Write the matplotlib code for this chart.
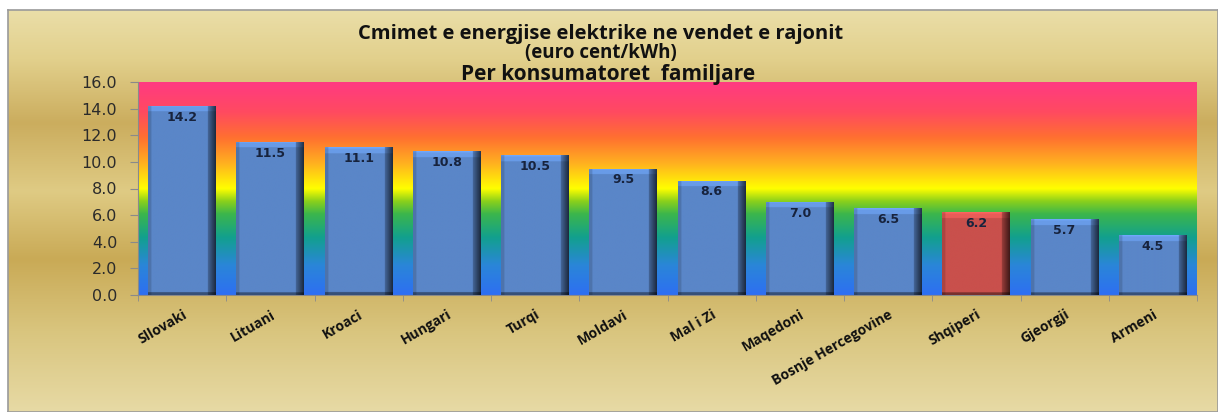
import numpy as np
import matplotlib.pyplot as plt
from matplotlib.colors import LinearSegmentedColormap, to_rgb

vendet = ["Sllovaki", "Lituani", "Kroaci", "Hungari", "Turqi", "Moldavi",
          "Mal i Zi", "Maqedoni", "Bosnje Hercegovine", "Shqiperi", "Gjeorgji", "Armeni"]
cmimet = [14.2, 11.5, 11.1, 10.8, 10.5, 9.5, 8.6, 7.0, 6.5, 6.2, 5.7, 4.5]
theksuar = "Shqiperi"

blu = "#5a86c8"
kuqe = "#c9504c"

W, H = 1218, 412
fig = plt.figure(figsize=(W / 100, H / 100), dpi=100)
fig.patch.set_facecolor("white")

# sfondi i arte
bg = fig.add_axes([8 / W, 0, 1 - 8 / W, 1 - 10 / H])
ari = LinearSegmentedColormap.from_list("ari", [
    (0.0, "#eadea8"), (0.12, "#e2d08c"), (0.28, "#cbad5e"), (0.45, "#dfcb84"),
    (0.62, "#c9aa56"), (0.80, "#d9c57e"), (1.0, "#e7daa5")])
bg.imshow(np.linspace(0, 1, 256)[:, None], aspect="auto", cmap=ari,
          extent=[0, 1, 0, 1], origin="upper")
bg.set_xticks([])
bg.set_yticks([])
for s in bg.spines.values():
    s.set_color("#9a9a9a")
    s.set_linewidth(1.2)
bg.set_zorder(0)

ax = fig.add_axes([138 / W, (H - 295) / H, (1197 - 138) / W, (295 - 82) / H])
ax.set_zorder(1)
n = len(vendet)
x = np.arange(n)
ax.set_xlim(-0.5, n - 0.5)
ax.set_ylim(0, 16)

# ylberi i zones se grafikut
ylber = LinearSegmentedColormap.from_list("ylber", [
    (0.0, "#2e6ff2"), (0.14, "#2a86d8"), (0.27, "#12a08e"), (0.38, "#3bb64c"),
    (0.44, "#8ad01c"), (0.50, "#ffff00"), (0.62, "#ffb020"), (0.74, "#ff7030"),
    (0.86, "#ff4a60"), (1.0, "#ff3a82")])
ax.imshow(np.linspace(0, 1, 256)[:, None], aspect="auto", cmap=ylber,
          extent=[-0.5, n - 0.5, 0, 16], origin="lower", zorder=0)

w = 0.77
bars = ax.bar(x, cmimet, width=w, color=[kuqe if v == theksuar else blu for v in vendet],
              zorder=2, linewidth=0)

# hije per efektin 3D te shtyllave
for b, v, name in zip(bars, cmimet, vendet):
    base = np.array(to_rgb(kuqe if name == theksuar else blu))
    cols = np.linspace(0, 1, 100)
    rows = np.linspace(0, v, 400)
    f = np.ones((rows.size, cols.size))
    f[:, cols < 0.05] = 0.86
    right = cols > 0.88
    f[:, right] = np.linspace(0.75, 0.32, right.sum())[None, :]
    top = rows > v - 0.45
    f[top, :] = f[top, :] * 1.16
    f[rows > v - 0.1, :] *= 1.08
    f[rows < 0.2, :] *= 0.6
    img = np.clip(base[None, None, :] * f[:, :, None], 0, 1)
    x0 = b.get_x()
    im = ax.imshow(img, extent=[x0, x0 + b.get_width(), 0, v], origin="lower",
                   aspect="auto", zorder=3)
    im.set_clip_path(b)
    ax.text(b.get_x() + b.get_width() / 2, v - 0.85, f"{v:.1f}", ha="center", va="center",
            fontsize=9, fontweight="bold", color="#17233d", zorder=4)

ax.set_yticks(np.arange(0, 16.1, 2))
ax.set_yticklabels([f"{t:.1f}" for t in np.arange(0, 16.1, 2)], fontsize=11.5, color="#2b2b2b")
ax.tick_params(axis="y", length=6, color="#8a8a8a", pad=9)
ax.set_xticks(x)
ax.set_xticklabels(vendet, rotation=30, ha="right", rotation_mode="anchor",
                   fontsize=10, fontweight="bold", family="Open Sans", color="#111111")
ax.set_xticks(np.arange(-0.5, n, 1), minor=True)
ax.tick_params(axis="x", which="major", length=0, pad=9)
ax.tick_params(axis="x", which="minor", length=4, color="#8a8a8a")
for s in ["top", "right"]:
    ax.spines[s].set_visible(False)
ax.spines["left"].set_color("#8a8a8a")
ax.spines["bottom"].set_color("#8a8a8a")

fig.text(601 / W, 1 - 39 / H, "Cmimet e energjise elektrike ne vendet e rajonit",
         ha="center", va="baseline", fontsize=14.5, fontweight="bold", family="Open Sans", color="#111111")
fig.text(601 / W, 1 - 58 / H, "(euro cent/kWh)",
         ha="center", va="baseline", fontsize=13.5, fontweight="bold", family="Open Sans", color="#111111")
fig.text(608 / W, 1 - 80 / H, "Per konsumatoret  familjare",
         ha="center", va="baseline", fontsize=15, fontweight="bold", family="Open Sans", color="#111111")

fig.savefig("out.png", dpi=100)
